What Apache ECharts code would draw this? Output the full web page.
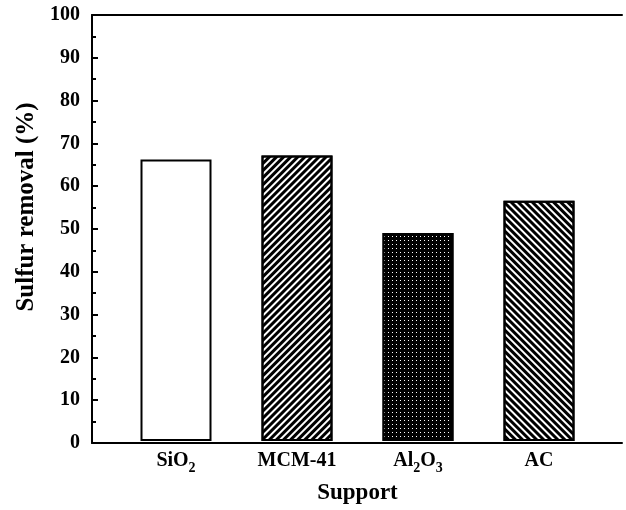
<!DOCTYPE html>
<html>
<head>
<meta charset="utf-8">
<script src="https://cdn.jsdelivr.net/npm/echarts@6/dist/echarts.min.js"></script>
<style>html,body{margin:0;padding:0;background:#fff;}#chart{width:626px;height:510px;}</style>
</head>
<body>
<div id="chart"></div>
<script>
var categories = ['SiO{s|2}', 'MCM-41', 'Al{s|2}O{s|3}', 'AC'];
var removal = [66.1, 67.0, 48.8, 56.4];
var yTicks = [0, 10, 20, 30, 40, 50, 60, 70, 80, 90, 100];

var FONT = '"Liberation Serif", "Times New Roman", serif';
var styles = [
  { color: '#fff' },
  { color: '#fff', decal: { symbol: 'rect', symbolSize: 1, color: '#000', dashArrayX: [1, 0], dashArrayY: [2.5, 2], rotation: -Math.PI / 4 } },
  { color: '#000', decal: { symbol: 'rect', symbolSize: 1, color: '#fff', dashArrayX: [1, 3], dashArrayY: [1, 3], rotation: 0 } },
  { color: '#fff', decal: { symbol: 'rect', symbolSize: 1, color: '#000', dashArrayX: [1, 0], dashArrayY: [2.5, 2], rotation: Math.PI / 4 } }
];
var barData = removal.map(function (v, i) {
  return { value: v, itemStyle: Object.assign({ borderColor: '#000', borderWidth: 2 }, styles[i]) };
});

var chart = echarts.init(document.getElementById('chart'), null, { renderer: 'canvas' });
chart.setOption({
  animation: false,
  backgroundColor: '#fff',
  grid: [
    { left: 92, right: 4, top: 15, bottom: 67 },
    { left: 115.5, right: 26.5, top: 15, bottom: 67 }
  ],
  xAxis: [
    { gridIndex: 0, type: 'value', min: 0, max: 1, position: 'bottom',
      axisLine: { show: true, lineStyle: { color: '#000', width: 2 } },
      axisTick: { show: false }, axisLabel: { show: false }, splitLine: { show: false } },
    { gridIndex: 0, type: 'value', min: 0, max: 1, position: 'top',
      axisLine: { show: true, lineStyle: { color: '#000', width: 2 } },
      axisTick: { show: false }, axisLabel: { show: false }, splitLine: { show: false } },
    { gridIndex: 1, type: 'category', data: categories, position: 'bottom',
      axisLine: { show: false }, axisTick: { show: false }, splitLine: { show: false },
      name: 'Support', nameLocation: 'middle', nameGap: 41,
      nameTextStyle: { fontFamily: FONT, fontWeight: 'bold', fontSize: 23, color: '#000' },
      axisLabel: { margin: 10, interval: 0, color: '#000', fontFamily: FONT, fontWeight: 'bold', fontSize: 20,
        formatter: function (v) { return '{m|' + v.replace(/\{s\|(\w)\}/g, '}{s|$1}{m|') + '}'; },
        rich: {
          m: { fontFamily: FONT, fontWeight: 'bold', fontSize: 20, color: '#000', lineHeight: 20, verticalAlign: 'top' },
          s: { fontFamily: FONT, fontWeight: 'bold', fontSize: 14, color: '#000', lineHeight: 24, verticalAlign: 'bottom' }
        } } }
  ],
  yAxis: [
    { gridIndex: 0, type: 'value', min: 0, max: 100, interval: 10,
      axisLine: { show: true, lineStyle: { color: '#000', width: 2 } },
      axisTick: { show: true, inside: true, length: 6, lineStyle: { color: '#000', width: 2 } },
      minorTick: { show: true, splitNumber: 2, length: 4, lineStyle: { color: '#000', width: 2 } },
      splitLine: { show: false },
      axisLabel: { margin: 12, color: '#000', fontFamily: FONT, fontWeight: 'bold', fontSize: 20,
        formatter: function (v) { return yTicks.indexOf(v) >= 0 ? String(v) : ''; } },
      name: 'Sulfur removal (%)', nameLocation: 'middle', nameGap: 52, nameRotate: 90,
      nameTextStyle: { fontFamily: FONT, fontWeight: 'bold', fontSize: 25, color: '#000', padding: [0, 0, 0, 44] } },
    { gridIndex: 1, type: 'value', min: 0, max: 100, show: false }
  ],
  series: [
    { type: 'bar', xAxisIndex: 2, yAxisIndex: 1, barWidth: 71, data: barData }
  ]
});
</script>
</body>
</html>
